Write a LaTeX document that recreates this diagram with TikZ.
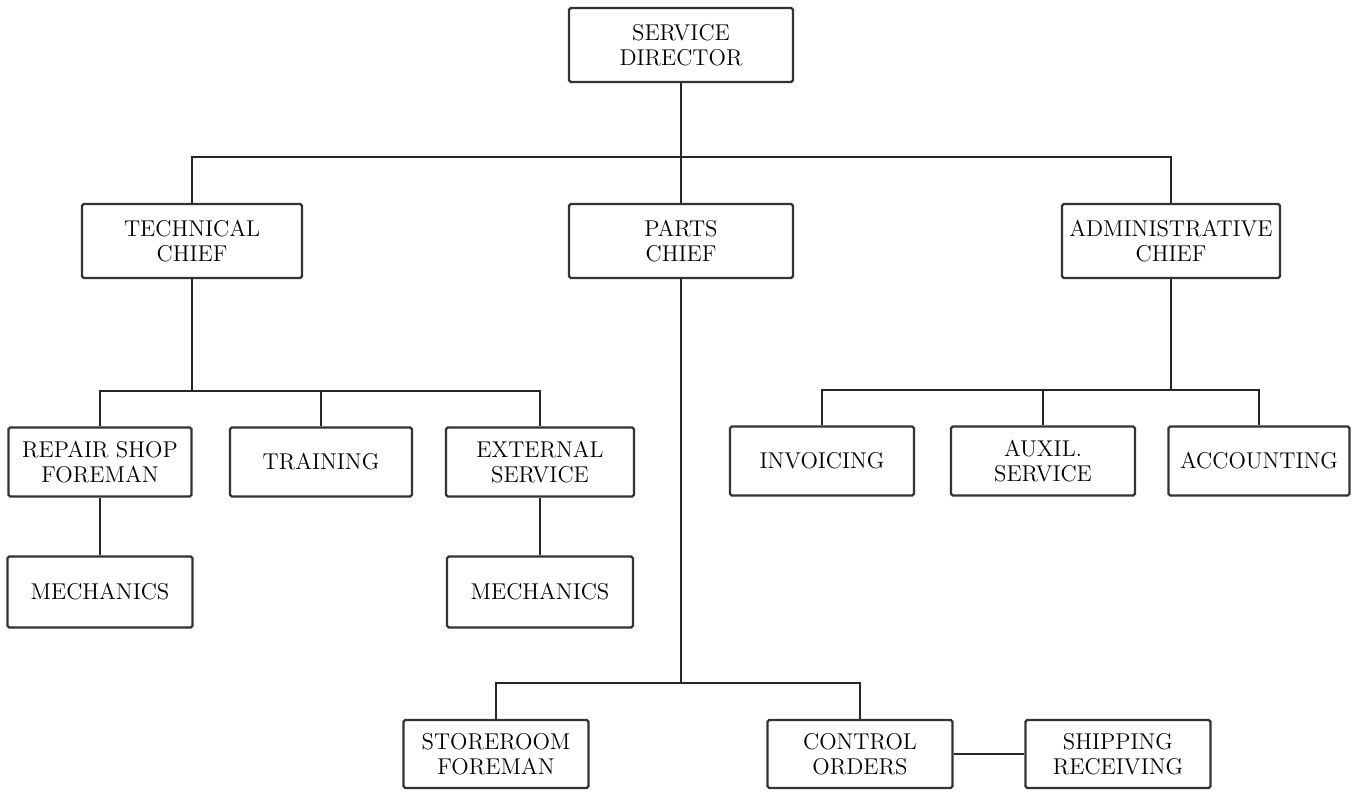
\documentclass[tikz,border=0pt]{standalone}
\usepackage{tikz}
\usetikzlibrary{calc}
\tikzset{
  box/.style={draw=black!80, line width=1.3pt, rounded corners=1pt, align=center,
    inner sep=0pt, font=\fontsize{13}{14.5}\selectfont},
  wire/.style={line width=0.7pt, color=black!85}
}

\begin{document}
\begin{tikzpicture}[x=0.02cm, y=-0.02cm]
			%%%%% START %%%%%
			\useasboundingbox (0,0) rectangle (1362,792);
			
			% top level
			\node[box, minimum width=4.48cm, minimum height=1.48cm] (dir) at (681,45) {SERVICE\\DIRECTOR};
			
			\node[box, minimum width=4.4cm, minimum height=1.48cm] (tech) at (192,241) {TECHNICAL\\CHIEF};
			\node[box, minimum width=4.48cm, minimum height=1.48cm] (parts) at (681,241) {PARTS\\CHIEF};
			\node[box, minimum width=4.36cm, minimum height=1.48cm] (admin) at (1171,241) {ADMINISTRATIVE\\CHIEF};
			
			% technical side
			\node[box, minimum width=3.66cm, minimum height=1.38cm] (repair) at (100,462) {REPAIR SHOP\\FOREMAN};
			\node[box, minimum width=3.64cm, minimum height=1.38cm] (training) at (321,462) {TRAINING};
			\node[box, minimum width=3.76cm, minimum height=1.38cm] (external) at (540,462) {EXTERNAL\\SERVICE};
			\node[box, minimum width=3.7cm, minimum height=1.42cm] (mechA) at (100,592) {MECHANICS};
			\node[box, minimum width=3.72cm, minimum height=1.42cm] (mechB) at (540,592) {MECHANICS};
			
			% administrative side
			\node[box, minimum width=3.68cm, minimum height=1.38cm] (invoicing) at (822,461) {INVOICING};
			\node[box, minimum width=3.68cm, minimum height=1.38cm] (auxil) at (1043,461) {AUXIL.\\SERVICE};
			\node[box, minimum width=3.62cm, minimum height=1.38cm] (accounting) at (1259,461) {ACCOUNTING};
			
			% parts side
			\node[box, minimum width=3.7cm, minimum height=1.36cm] (store) at (496,754) {STOREROOM\\FOREMAN};
			\node[box, minimum width=3.7cm, minimum height=1.36cm] (control) at (860,754) {CONTROL\\ORDERS};
			\node[box, minimum width=3.7cm, minimum height=1.36cm] (shipping) at (1118,754) {SHIPPING\\RECEIVING};
			
			% buses
			\coordinate (topbus) at (681,157);
			\coordinate (techbus) at (192,391);
			\coordinate (adminbus) at (1171,390);
			\coordinate (partsbus) at (681,683);
			
			\draw[wire] (dir) -- (parts);
			\draw[wire] (tech.north) |- (topbus) -| (admin.north);
			
			\draw[wire] (tech.south) -- (techbus);
			\draw[wire] (repair.north) |- (techbus) -| (external.north);
			\draw[wire] (training.north) -- (training.north |- techbus);
			\draw[wire] (repair) -- (mechA);
			\draw[wire] (external) -- (mechB);
			
			\draw[wire] (admin.south) -- (adminbus);
			\draw[wire] (invoicing.north) |- (adminbus) -| (accounting.north);
			\draw[wire] (auxil.north) -- (auxil.north |- adminbus);
			
			\draw[wire] (parts.south) -- (partsbus);
			\draw[wire] (store.north) |- (partsbus) -| (control.north);
			\draw[wire] (control) -- (shipping);
			%%%%% END %%%%%
\end{tikzpicture}
\end{document}
